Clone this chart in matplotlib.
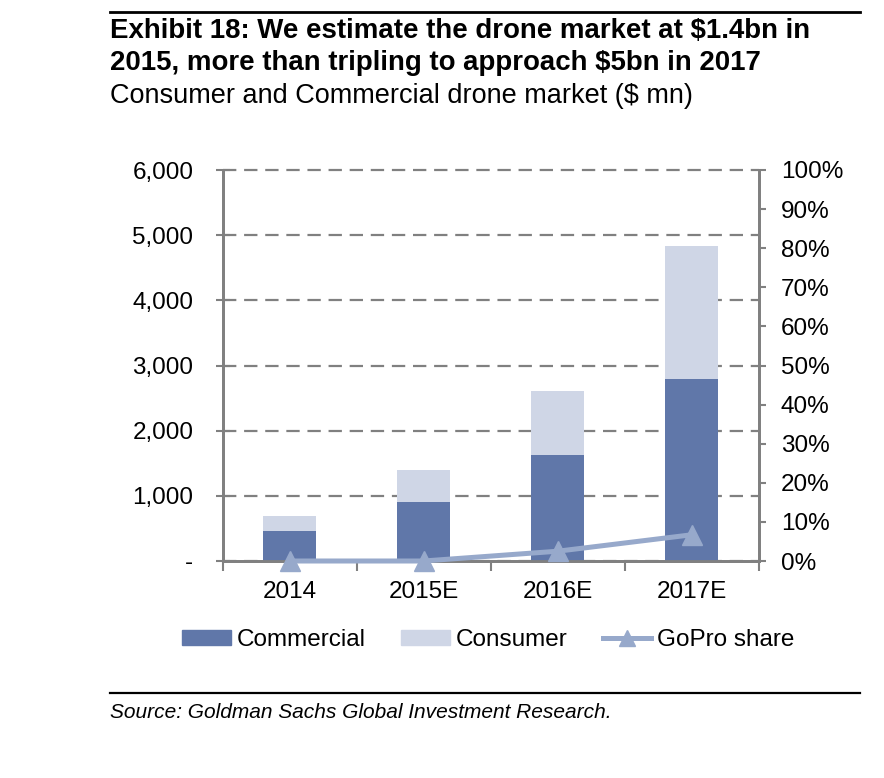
import matplotlib
matplotlib.use("Agg")
import matplotlib.pyplot as plt
from matplotlib.lines import Line2D
from matplotlib.patches import Patch
import numpy as np

categories = ["2014", "2015E", "2016E", "2017E"]
commercial = [460, 900, 1630, 2790]
consumer = [230, 500, 975, 2040]
gopro_share = [0.0, 0.0, 2.5, 6.7]
left_ticks = [0, 1000, 2000, 3000, 4000, 5000, 6000]
left_labels = ["-", "1,000", "2,000", "3,000", "4,000", "5,000", "6,000"]
right_ticks = list(range(0, 101, 10))
right_labels = [f"{t}%" for t in right_ticks]

c_com = "#6077A9"
c_con = "#CFD6E6"
c_line = "#97A9CB"
gray = "#808080"

plt.rcParams['font.family'] = ['Liberation Sans', 'DejaVu Sans']
FS = 17.5
W, H = 884, 778
fig = plt.figure(figsize=(W/100, H/100), dpi=100)

ax_l, ax_r, ax_t, ax_b = 222.5, 758.5, 170, 561
ax = fig.add_axes([ax_l/W, 1-ax_b/H, (ax_r-ax_l)/W, (ax_b-ax_t)/H])
x = np.arange(len(categories))
ax.bar(x, commercial, width=0.4, color=c_com, zorder=3)
ax.bar(x, consumer, width=0.4, bottom=commercial, color=c_con, zorder=3)
ax.set_xlim(-0.5, len(categories)-0.5)
ax.set_ylim(0, 6000)
ax.set_yticks(left_ticks)
ax.set_yticklabels(left_labels, fontsize=FS)
ax.set_xticks(x)
ax.set_xticklabels(categories, fontsize=FS)
ax.set_xticks(np.arange(-0.5, len(categories)), minor=True)
ax.tick_params(axis='x', which='major', length=0, pad=14.5)
ax.tick_params(axis='x', which='minor', length=7, color=gray, width=1.5, direction='out')
ax.tick_params(axis='y', length=10, color=gray, width=1.5, direction='inout', pad=16)
ax.grid(axis='y', color=gray, linestyle=(0, (6, 3.5)), linewidth=1.6, zorder=1)
for gl in ax.get_ygridlines():
    gl.set_clip_on(False)
ax.spines['top'].set_visible(False)
for s in ['left', 'right', 'bottom']:
    ax.spines[s].set_color(gray)
    ax.spines[s].set_linewidth(2)

ax2 = ax.twinx()
ax2.plot(x, gopro_share, color=c_line, linewidth=3.6, marker='^', markersize=14.5, zorder=5, clip_on=False)
ax2.set_ylim(0, 100)
ax2.set_yticks(right_ticks)
ax2.set_yticklabels(right_labels, fontsize=FS)
ax2.tick_params(axis='y', length=5, color=gray, width=1.5, direction='out', pad=11)
ax2.spines['top'].set_visible(False)
for s in ['left', 'right', 'bottom']:
    ax2.spines[s].set_color(gray)
    ax2.spines[s].set_linewidth(2)

# Title block
fig.add_artist(Line2D([110/W, 860/W], [1-12/H, 1-12/H], color='black', linewidth=2))
fig.text(110/W, 1-31/H, "Exhibit 18: We estimate the drone market at $1.4bn in",
         fontsize=19.9, fontweight='bold', va='center', ha='left')
fig.text(110/W, 1-63/H, "2015, more than tripling to approach $5bn in 2017",
         fontsize=19.9, fontweight='bold', va='center', ha='left')
fig.text(110/W, 1-96/H, "Consumer and Commercial drone market ($ mn)",
         fontsize=19.5, va='center', ha='left')

# Legend
handles = [Patch(color=c_com), Patch(color=c_con),
           Line2D([], [], color=c_line, linewidth=3.6, marker='^', markersize=12)]
leg = fig.legend(handles, ["Commercial", "Consumer", "GoPro share"], loc='center',
                 bbox_to_anchor=(488.5/W, 1-640/H), ncol=3, frameon=False, fontsize=FS,
                 handlelength=2.0, handleheight=0.55, handletextpad=0.25, columnspacing=1.45,
                 borderpad=0, borderaxespad=0)

fig.add_artist(Line2D([110/W, 860/W], [1-693/H, 1-693/H], color='black', linewidth=1.6))
fig.text(110/W, 1-712/H, "Source: Goldman Sachs Global Investment Research.",
         fontsize=15, style='italic', va='center', ha='left')

fig.savefig("out.png", dpi=100)
